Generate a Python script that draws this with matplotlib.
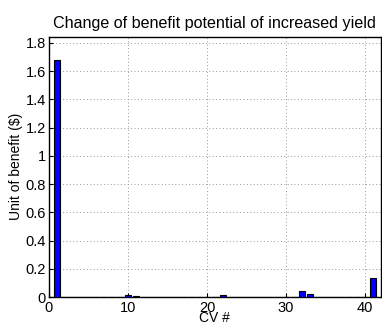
import matplotlib
matplotlib.use("Agg")
import matplotlib.pyplot as plt
import numpy as np

cv = list(range(1, 42))
benefit = [0.0] * 41
benefit[0] = 1.68
benefit[9] = 0.013
benefit[10] = 0.011
benefit[21] = 0.014
benefit[31] = 0.046
benefit[32] = 0.024
benefit[40] = 0.137

xticks = [0, 10, 20, 30, 40]
yticks = [0, 0.2, 0.4, 0.6, 0.8, 1, 1.2, 1.4, 1.6, 1.8]
yticklabels = ["0", "0.2", "0.4", "0.6", "0.8", "1", "1.2", "1.4", "1.6", "1.8"]

plt.rcParams['font.family'] = ['Liberation Sans', 'DejaVu Sans']
fig = plt.figure(figsize=(3.82, 3.24), dpi=100)
ax = fig.add_axes([0.128, 0.083, 0.869, 0.804])
ax.bar(cv, benefit, width=0.8, color='#0000ff', edgecolor='black', linewidth=0.8, zorder=3)
ax.set_xlim(0, 42)
ax.set_ylim(0, 1.845)
ax.set_xticks(xticks)
ax.set_yticks(yticks)
ax.set_yticklabels(yticklabels)
ax.tick_params(direction='in', length=3, labelsize=10.5, pad=2)
ax.tick_params(axis='x', pad=3)
ax.grid(True, linestyle=(0, (1, 2.5)), color='#999999', linewidth=0.7, zorder=0)
for s in ax.spines.values():
    s.set_linewidth(1.0)
ax.set_title("Change of benefit potential of increased yield", fontsize=11.6, pad=6)
ax.set_xlabel("CV #", fontsize=10, labelpad=-3)
ax.set_ylabel("Unit of benefit (\\$)", fontsize=10, labelpad=2)
fig.savefig("out.png", dpi=100)
